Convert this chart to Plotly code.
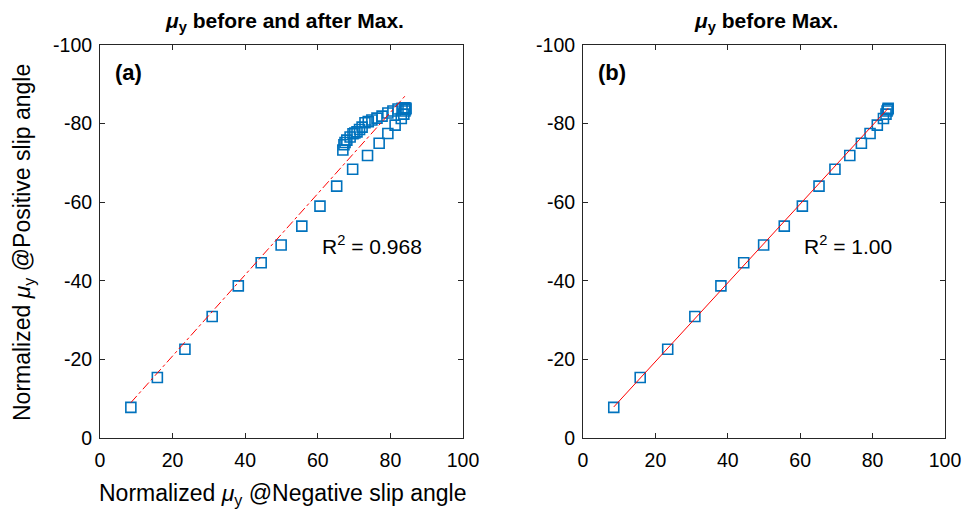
import plotly.graph_objects as go

# ---- data ----
x_before = [8.5, 15.8, 23.4, 30.9, 38.1, 44.4, 49.9, 55.6, 60.6, 65.2, 69.6, 73.7,
            76.9, 79.3, 81.3, 83.0, 83.7, 84.0, 84.2, 84.3]
y_before = [-7.8, -15.4, -22.6, -30.9, -38.7, -44.6, -49.1, -53.9, -59.0, -64.1, -68.4, -71.9,
            -75.0, -77.5, -79.6, -81.3, -82.4, -83.2, -83.6, -83.9]
x_after = [84.0, 83.2, 82.1, 80.7, 79.3, 77.7, 76.3, 74.9, 73.9, 73.0, 72.2, 71.5,
           70.8, 70.2, 69.7, 68.9, 68.0, 67.5, 67.2, 66.9]
y_after = [-84.0, -83.9, -83.7, -83.2, -82.7, -81.9, -81.4, -80.9, -80.5, -80.2, -79.1, -78.5,
           -77.9, -77.6, -77.4, -76.6, -75.8, -75.2, -74.6, -73.3]
fit_a_x = [8.5, 84.3]
fit_a_y = [-9.0, -87.3]
fit_b_x = [8.5, 84.3]
fit_b_y = [-7.9, -83.9]
r2_a = "0.968"
r2_b = "1.00"
xticks = [0, 20, 40, 60, 80, 100]
xticklabels = ["0", "20", "40", "60", "80", "100"]
yticks = [0, -20, -40, -60, -80, -100]
yticklabels = ["0", "-20", "-40", "-60", "-80", "-100"]

blue = "#0072BD"
axcol = "#262626"
font = "Liberation Sans, Arial, sans-serif"

fig = go.Figure()
mk = dict(symbol="square-open", size=10, color=blue, line=dict(width=1.6, color=blue))

# panel a
fig.add_trace(go.Scatter(x=x_before + x_after, y=y_before + y_after, mode="markers",
                         marker=mk, xaxis="x", yaxis="y", showlegend=False))
fig.add_trace(go.Scatter(x=fit_a_x, y=fit_a_y, mode="lines",
                         line=dict(color="red", width=1, dash="dashdot"),
                         xaxis="x", yaxis="y", showlegend=False))
# panel b
fig.add_trace(go.Scatter(x=x_before, y=y_before, mode="markers",
                         marker=mk, xaxis="x2", yaxis="y2", showlegend=False))
fig.add_trace(go.Scatter(x=fit_b_x, y=fit_b_y, mode="lines",
                         line=dict(color="red", width=1),
                         xaxis="x2", yaxis="y2", showlegend=False))

ax_common = dict(showline=True, mirror="ticks", linecolor=axcol, linewidth=1, automargin=False,
                 ticks="inside", ticklen=5, tickcolor=axcol, showgrid=False, zeroline=False,
                 tickfont=dict(family=font, size=19.5, color="#000"))
xa = dict(range=[0, 100], tickvals=xticks, ticktext=xticklabels, ticklabelstandoff=5, **ax_common)
ya = dict(range=[0, -100], tickvals=yticks, ticktext=yticklabels, ticklabelstandoff=3, **ax_common)

y0, y1 = 1 - 438 / 510, 1 - 45 / 510
fig.update_layout(
    width=966, height=510, margin=dict(l=0, r=0, t=0, b=0, pad=0),
    plot_bgcolor="white", paper_bgcolor="white",
    xaxis=dict(domain=[100 / 966, 463 / 966], anchor="y", **xa),
    yaxis=dict(domain=[y0, y1], anchor="x", **ya),
    xaxis2=dict(domain=[583 / 966, 945 / 966], anchor="y2", **xa),
    yaxis2=dict(domain=[y0, y1], anchor="x2", **ya),
)

def A(text, x, y, xref="paper", yref="paper", size=19, xanchor="center", angle=0):
    return dict(text=text, x=x, y=y, xref=xref, yref=yref, xanchor=xanchor, yanchor="middle",
                showarrow=False, textangle=angle, font=dict(family=font, size=size, color="#000"))

ann = [
    A("<b><i>μ</i><sub>y</sub> before and after Max.</b>", 284 / 966, 1 - 22 / 510, size=21),
    A("<b><i>μ</i><sub>y</sub> before Max.</b>", 766 / 966, 1 - 22 / 510, size=21),
    A("Normalized <i>μ</i><sub>y</sub> @Negative slip angle", 282 / 966, 1 - 494 / 510, size=23),
    A("Normalized <i>μ</i><sub>y</sub> @Positive slip angle", 23 / 966, 1 - 243 / 510, size=23, angle=-90),
    A("<b>(a)</b>", 3.6, -93, "x", "y", size=22, xanchor="left"),
    A("<b>(b)</b>", 3.6, -93, "x2", "y2", size=22, xanchor="left"),
    A("R<sup>2</sup> = " + r2_a, 60.5, -49, "x", "y", size=21, xanchor="left"),
    A("R<sup>2</sup> = " + r2_b, 60.5, -49, "x2", "y2", size=21, xanchor="left"),
]
fig.update_layout(annotations=ann)

fig.write_html("out.html")
